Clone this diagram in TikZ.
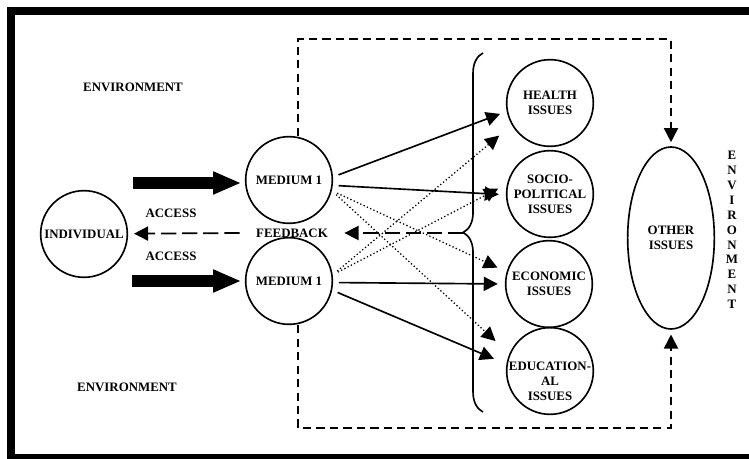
\documentclass[tikz,border=0pt]{standalone}
\usepackage{fontspec}
\setmainfont{Liberation Serif}
\usetikzlibrary{shapes.geometric, arrows.meta, decorations.pathreplacing}
\tikzset{
    every node/.style={font=\bfseries\fontsize{11}{12.7}\selectfont, align=center,
        inner sep=1pt},
    bubble/.style={draw, circle, line width=1.4pt, minimum size=2.6cm, inner sep=0pt},
    issuetip/.style={-{Triangle[length=12pt, width=12pt]}},
    solidlink/.style={issuetip, line width=1.4pt, shorten <=5pt},
    dotlink/.style={issuetip, line width=1.1pt, dotted, shorten <=5pt},
    boxline/.style={line width=1.4pt, dash pattern=on 7pt off 4.5pt},
    feedline/.style={line width=1.5pt, dash pattern=on 13pt off 5pt},
    fatarrow/.style={line width=9.4pt, -{Triangle[length=24pt, width=18pt]}},
}

\begin{document}
\begin{tikzpicture}[x=0.03cm, y=-0.03cm]
        \useasboundingbox (0, 0) rectangle (749, 459);
        \clip (0, 0) rectangle (749, 459);
        \draw[line width=6.8pt] (11, 11) rectangle (770, 458);

        % individual and media
        \node[bubble] (indiv) at (84, 234) {INDIVIDUAL};
        \node[bubble] (med1) at (289, 180) {MEDIUM 1};
        \node[bubble] (med2) at (289, 281) {MEDIUM 1};

        % issues
        \node[bubble] (health) at (550, 103) {HEALTH\\ISSUES};
        \node[bubble] (socio) at (550, 194) {SOCIO-\\POLITICAL\\ISSUES};
        \node[bubble] (econ) at (549, 284) {ECONOMIC\\ISSUES};
        \node[bubble, label={[yshift=-8.5pt]center:{EDUCATION-\\AL\\ISSUES}}]
            (edu) at (550, 371) {};
        \node[draw, ellipse, line width=1.4pt, minimum width=2.6cm,
            minimum height=5.46cm, inner sep=0pt] (other) at (671, 238) {OTHER\\ISSUES};

        % labels
        \node (envtop) at (133, 87) {ENVIRONMENT};
        \node (envbot) at (127, 387) {ENVIRONMENT};
        \node (envside) at (732, 230) {E\\N\\V\\I\\R\\O\\N\\M\\E\\N\\T};
        \node (acc1lbl) at (171, 213) {ACCESS};
        \node (acc2lbl) at (171, 256) {ACCESS};
        \node[inner xsep=14pt] (fb) at (292, 233) {FEEDBACK};

        % access arrows
        \coordinate (acc1) at (133, 183);
        \coordinate (acc2) at (132, 281);
        \draw[fatarrow, shorten >=3pt] (acc1) -- (acc1 -| med1.west);
        \draw[fatarrow, shorten >=3pt] (acc2) -- (acc2 -| med2.west);

        % media to issues
        \draw[solidlink, shorten >=6pt] (med1.4) -- (health.191);
        \draw[solidlink, shorten >=6pt] (med1.-7) -- (socio.181);
        \draw[dotlink, shorten >=8.5pt] (med1.-14) -- (econ.164);
        \draw[dotlink, shorten >=16pt] (med1.-14) -- (edu.157);
        \draw[dotlink, shorten >=14pt] (med2.8) -- (health.210);
        \draw[dotlink, shorten >=8.5pt] (med2.8) -- (socio.167);
        \draw[solidlink, shorten >=6pt] (med2.-2) -- (econ.180);
        \draw[solidlink, shorten >=11.5pt] (med2.-12) -- (edu.171);

        % brace and feedback
        \draw[line width=1.4pt, decorate, decoration={brace, amplitude=17pt}]
            (483, 412) -- (483, 53);
        \coordinate (cusp) at (463, 233);
        \draw[feedline, issuetip] (cusp) -- (fb.east);
        \draw[feedline, issuetip, shorten >=5pt] (fb.west) -- (indiv);

        % environment box
        \coordinate (boxtl) at (298, 39);
        \coordinate (boxbl) at (298, 428);
        \draw[boxline, issuetip, shorten >=3.4pt] (boxtl |- med1.north) -- (boxtl)
            -- (boxtl -| other) -- (other.north);
        \draw[boxline, issuetip, shorten >=4pt] (boxbl |- med2.south) -- (boxbl)
            -- (boxbl -| other) -- (other.south);
    \end{tikzpicture}
\end{document}
